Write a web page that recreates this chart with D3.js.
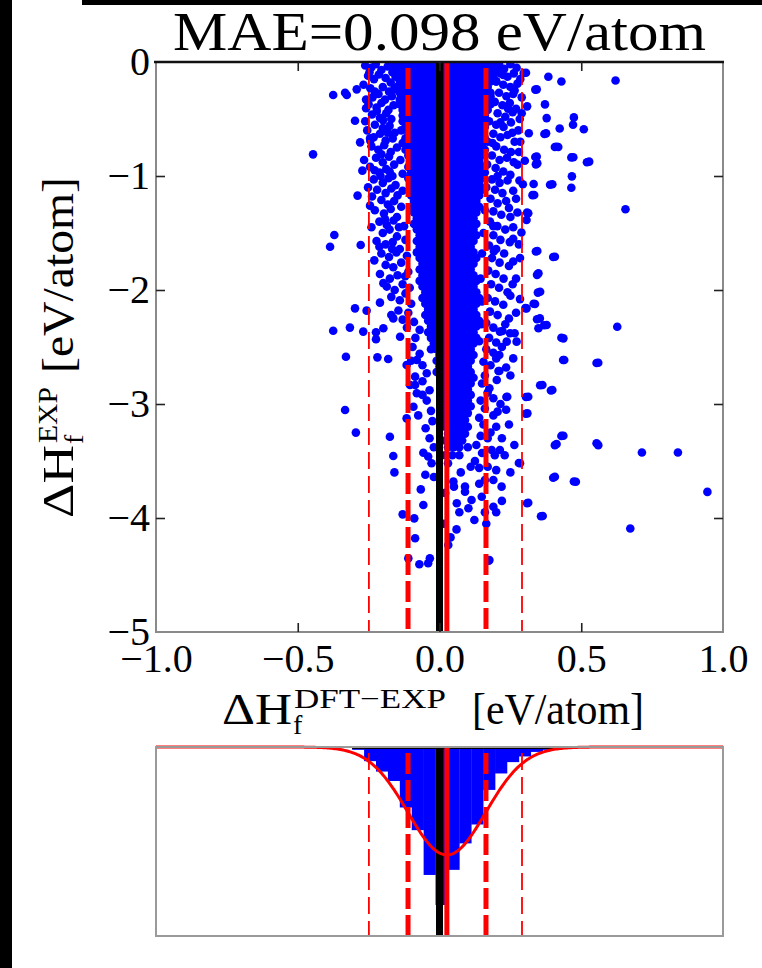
<!DOCTYPE html>
<html><head><meta charset="utf-8">
<script src="https://cdn.jsdelivr.net/npm/d3@7/dist/d3.min.js"></script>
<style>
html,body{margin:0;padding:0;background:#fff;}
svg{display:block;}
text{font-family:"Liberation Serif","Times New Roman",serif;fill:#000;}
</style></head><body>
<svg id="chart" width="762" height="968"></svg>
<script>
// ---------------- data ----------------
const titleText = "MAE=0.098 eV/atom";
const xTicks = [-1.0, -0.5, 0.0, 0.5, 1.0];
const xTickLabels = ["−1.0", "−0.5", "0.0", "0.5", "1.0"];
const yTicks = [0, -1, -2, -3, -4, -5];
const yTickLabels = ["0", "−1", "−2", "−3", "−4", "−5"];
const zeroLine = 0.0;
const meanError = 0.026;
const sigma = 0.137;
const sigma1Lines = [-0.111, 0.164];
const sigma2Lines = [-0.249, 0.291];
const fitPeak = 0.571;            // gaussian fit depth (fraction of panel)
const histEdges = [-0.308,-0.266,-0.224,-0.182,-0.140,-0.098,-0.056,-0.014,0.028,0.070,0.112,0.154,0.196,0.238,0.280,0.322,0.364,0.406,0.448];
const histValues = [0.015,0.075,0.13,0.18,0.32,0.44,0.677,0.836,0.65,0.51,0.41,0.227,0.14,0.08,0.05,0.026,0.015,0.01];

// solid core of the cloud: rows of [y, x values]
const coreRows = [
[-0.02,[-0.17,-0.15,-0.13,-0.11,-0.09,-0.07,-0.05,-0.03,-0.01,0.01,0.03,0.05,0.07,0.09,0.11,0.13,0.15,0.17,0.19,0.21]],
[-0.07,[-0.16,-0.14,-0.12,-0.1,-0.08,-0.06,-0.04,-0.02,0,0.02,0.04,0.06,0.08,0.1,0.12,0.14,0.16,0.18,0.2]],
[-0.12,[-0.15,-0.13,-0.11,-0.09,-0.07,-0.05,-0.03,-0.01,0.01,0.03,0.05,0.07,0.09,0.11,0.13,0.15,0.17,0.19]],
[-0.17,[-0.14,-0.12,-0.1,-0.08,-0.06,-0.04,-0.02,0,0.02,0.04,0.06,0.08,0.1,0.12,0.14,0.16,0.18,0.2]],
[-0.22,[-0.15,-0.13,-0.11,-0.09,-0.07,-0.05,-0.03,-0.01,0.01,0.03,0.05,0.07,0.09,0.11,0.13,0.15,0.17]],
[-0.27,[-0.14,-0.12,-0.1,-0.08,-0.06,-0.04,-0.02,0,0.02,0.04,0.06,0.08,0.1,0.12,0.14,0.16,0.18]],
[-0.32,[-0.13,-0.11,-0.09,-0.07,-0.05,-0.03,-0.01,0.01,0.03,0.05,0.07,0.09,0.11,0.13,0.15,0.17]],
[-0.37,[-0.14,-0.12,-0.1,-0.08,-0.06,-0.04,-0.02,0,0.02,0.04,0.06,0.08,0.1,0.12,0.14,0.16,0.18]],
[-0.42,[-0.13,-0.11,-0.09,-0.07,-0.05,-0.03,-0.01,0.01,0.03,0.05,0.07,0.09,0.11,0.13,0.15,0.17]],
[-0.47,[-0.12,-0.1,-0.08,-0.06,-0.04,-0.02,0,0.02,0.04,0.06,0.08,0.1,0.12,0.14,0.16]],
[-0.52,[-0.13,-0.11,-0.09,-0.07,-0.05,-0.03,-0.01,0.01,0.03,0.05,0.07,0.09,0.11,0.13,0.15,0.17]],
[-0.57,[-0.12,-0.1,-0.08,-0.06,-0.04,-0.02,0,0.02,0.04,0.06,0.08,0.1,0.12,0.14,0.16]],
[-0.62,[-0.11,-0.09,-0.07,-0.05,-0.03,-0.01,0.01,0.03,0.05,0.07,0.09,0.11,0.13,0.15]],
[-0.67,[-0.12,-0.1,-0.08,-0.06,-0.04,-0.02,0,0.02,0.04,0.06,0.08,0.1,0.12,0.14,0.16]],
[-0.72,[-0.11,-0.09,-0.07,-0.05,-0.03,-0.01,0.01,0.03,0.05,0.07,0.09,0.11,0.13,0.15]],
[-0.77,[-0.12,-0.1,-0.08,-0.06,-0.04,-0.02,0,0.02,0.04,0.06,0.08,0.1,0.12,0.14,0.16]],
[-0.82,[-0.11,-0.09,-0.07,-0.05,-0.03,-0.01,0.01,0.03,0.05,0.07,0.09,0.11,0.13,0.15]],
[-0.87,[-0.1,-0.08,-0.06,-0.04,-0.02,0,0.02,0.04,0.06,0.08,0.1,0.12,0.14]],
[-0.92,[-0.11,-0.09,-0.07,-0.05,-0.03,-0.01,0.01,0.03,0.05,0.07,0.09,0.11,0.13,0.15]],
[-0.97,[-0.1,-0.08,-0.06,-0.04,-0.02,0,0.02,0.04,0.06,0.08,0.1,0.12,0.14,0.16]],
[-1.02,[-0.11,-0.09,-0.07,-0.05,-0.03,-0.01,0.01,0.03,0.05,0.07,0.09,0.11,0.13,0.15]],
[-1.07,[-0.1,-0.08,-0.06,-0.04,-0.02,0,0.02,0.04,0.06,0.08,0.1,0.12,0.14]],
[-1.12,[-0.09,-0.07,-0.05,-0.03,-0.01,0.01,0.03,0.05,0.07,0.09,0.11,0.13,0.15]],
[-1.17,[-0.1,-0.08,-0.06,-0.04,-0.02,0,0.02,0.04,0.06,0.08,0.1,0.12,0.14]],
[-1.22,[-0.09,-0.07,-0.05,-0.03,-0.01,0.01,0.03,0.05,0.07,0.09,0.11,0.13]],
[-1.27,[-0.1,-0.08,-0.06,-0.04,-0.02,0,0.02,0.04,0.06,0.08,0.1,0.12,0.14]],
[-1.32,[-0.09,-0.07,-0.05,-0.03,-0.01,0.01,0.03,0.05,0.07,0.09,0.11,0.13]],
[-1.37,[-0.08,-0.06,-0.04,-0.02,0,0.02,0.04,0.06,0.08,0.1,0.12]],
[-1.42,[-0.09,-0.07,-0.05,-0.03,-0.01,0.01,0.03,0.05,0.07,0.09,0.11,0.13]],
[-1.47,[-0.08,-0.06,-0.04,-0.02,0,0.02,0.04,0.06,0.08,0.1,0.12]],
[-1.52,[-0.07,-0.05,-0.03,-0.01,0.01,0.03,0.05,0.07,0.09,0.11,0.13]],
[-1.57,[-0.08,-0.06,-0.04,-0.02,0,0.02,0.04,0.06,0.08,0.1,0.12]],
[-1.62,[-0.07,-0.05,-0.03,-0.01,0.01,0.03,0.05,0.07,0.09,0.11]],
[-1.67,[-0.08,-0.06,-0.04,-0.02,0,0.02,0.04,0.06,0.08,0.1,0.12]],
[-1.72,[-0.07,-0.05,-0.03,-0.01,0.01,0.03,0.05,0.07,0.09,0.11,0.13]],
[-1.77,[-0.06,-0.04,-0.02,0,0.02,0.04,0.06,0.08,0.1,0.12]],
[-1.82,[-0.07,-0.05,-0.03,-0.01,0.01,0.03,0.05,0.07,0.09,0.11]],
[-1.87,[-0.06,-0.04,-0.02,0,0.02,0.04,0.06,0.08,0.1,0.12]],
[-1.92,[-0.07,-0.05,-0.03,-0.01,0.01,0.03,0.05,0.07,0.09,0.11,0.13]],
[-1.97,[-0.06,-0.04,-0.02,0,0.02,0.04,0.06,0.08,0.1,0.12]],
[-2.02,[-0.05,-0.03,-0.01,0.01,0.03,0.05,0.07,0.09,0.11,0.13]],
[-2.07,[-0.06,-0.04,-0.02,0,0.02,0.04,0.06,0.08,0.1,0.12,0.14]],
[-2.12,[-0.05,-0.03,-0.01,0.01,0.03,0.05,0.07,0.09,0.11,0.13]],
[-2.17,[-0.04,-0.02,0,0.02,0.04,0.06,0.08,0.1,0.12]],
[-2.22,[-0.05,-0.03,-0.01,0.01,0.03,0.05,0.07,0.09,0.11,0.13]],
[-2.27,[-0.04,-0.02,0,0.02,0.04,0.06,0.08,0.1,0.12,0.14]],
[-2.32,[-0.03,-0.01,0.01,0.03,0.05,0.07,0.09,0.11,0.13]],
[-2.37,[-0.04,-0.02,0,0.02,0.04,0.06,0.08,0.1,0.12]],
[-2.42,[-0.03,-0.01,0.01,0.03,0.05,0.07,0.09,0.11,0.13]],
[-2.47,[-0.02,0,0.02,0.04,0.06,0.08,0.1,0.12]],
[-2.52,[-0.03,-0.01,0.01,0.03,0.05,0.07,0.09,0.11]],
[-2.57,[0,0.02,0.04,0.06,0.08,0.1,0.12]],
[-2.62,[-0.01,0.01,0.03,0.05,0.07,0.09,0.11]],
[-2.67,[0,0.02,0.04,0.06,0.08,0.1]],
[-2.72,[-0.01,0.01,0.03,0.05,0.07,0.09,0.11]],
[-2.77,[0.02,0.04,0.06,0.08,0.1,0.12]],
[-2.82,[0.01,0.03,0.05,0.07,0.09,0.11]],
[-2.87,[0.02,0.04,0.06,0.08,0.1]],
[-2.92,[0.01,0.03,0.05,0.07,0.09,0.11]],
[-2.97,[0.02,0.04,0.06,0.08,0.1]],
[-3.02,[0.01,0.03,0.05,0.07,0.09,0.11]],
[-3.08,[0.02,0.04,0.06,0.08,0.1]],
[-3.14,[0.01,0.03,0.05,0.07,0.09]],
[-3.2,[0.02,0.04,0.06,0.08,0.1]],
[-3.26,[0.03,0.05,0.07,0.09]],
[-3.32,[0.02,0.04,0.06,0.08]],
[-3.38,[0.03,0.05,0.07,0.1]],
[-3.45,[0.02,0.045,0.07]]
];

// flanks of the cloud [x, y]
const flankLeft = [
[-0.262,-0.03],[-0.241,-0.05],[-0.225,-0.02],[-0.205,-0.07],[-0.183,-0.04],[-0.166,-0.09],[-0.252,-0.12],[-0.231,-0.15],[-0.214,-0.11],[-0.19,-0.14],[-0.172,-0.18],[-0.155,-0.13],[-0.268,-0.2],[-0.244,-0.23],[-0.2,-0.22],[-0.178,-0.26],[-0.16,-0.24],[-0.236,-0.31],[-0.215,-0.28],[-0.192,-0.33],[-0.168,-0.3],[-0.25,-0.37],[-0.222,-0.4],[-0.205,-0.36],[-0.18,-0.42],[-0.162,-0.38],[-0.238,-0.46],[-0.21,-0.49],[-0.188,-0.45],[-0.17,-0.5],[-0.228,-0.55],[-0.2,-0.58],[-0.176,-0.56],[-0.158,-0.62],[-0.255,-0.6],[-0.232,-0.66],[-0.21,-0.63],[-0.19,-0.69],[-0.165,-0.67],[-0.24,-0.74],[-0.216,-0.77],[-0.195,-0.73],[-0.172,-0.79],[-0.15,-0.75],[-0.224,-0.84],[-0.2,-0.88],[-0.178,-0.83],[-0.16,-0.9],[-0.245,-0.92],[-0.212,-0.97],[-0.188,-0.94],[-0.166,-1.0],[-0.232,-1.03],[-0.2,-1.06],[-0.18,-1.02],[-0.155,-1.08],[-0.22,-1.12],[-0.19,-1.15],[-0.17,-1.11],[-0.148,-1.17],[-0.205,-1.21],[-0.182,-1.25],[-0.16,-1.22],[-0.228,-1.3],[-0.196,-1.33],[-0.172,-1.29],[-0.15,-1.36],[-0.212,-1.4],[-0.186,-1.43],[-0.162,-1.39],[-0.2,-1.5],[-0.176,-1.47],[-0.15,-1.53],[-0.222,-1.57],[-0.19,-1.6],[-0.165,-1.58],[-0.14,-1.64],[-0.205,-1.68],[-0.178,-1.71],[-0.152,-1.67],[-0.19,-1.78],[-0.163,-1.8],[-0.135,-1.76],[-0.21,-1.86],[-0.175,-1.9],[-0.148,-1.87],[-0.186,-1.97],[-0.158,-2.0],[-0.13,-1.95],[-0.17,-2.06],[-0.14,-2.09],[-0.12,-2.03],
[-0.135,-0.05],[-0.128,-0.2],[-0.14,-0.33],[-0.13,-0.47],[-0.135,-0.6],[-0.13,-0.71],[-0.138,-0.86],[-0.13,-0.98],[-0.13,-1.13],[-0.135,-1.27],[-0.125,-1.44],[-0.12,-1.56],[-0.115,-1.7],[-0.11,-1.84],[-0.105,-1.98],[-0.1,-2.12],[-0.11,-2.2],[-0.09,-2.28],[-0.115,-2.33],[-0.085,-2.42],[-0.095,-2.5],[-0.07,-2.56],[-0.06,-2.66],[-0.045,-2.73],[-0.06,-2.8],[-0.035,-2.88],[-0.045,-2.97],[-0.03,-3.06],[-0.025,-3.15],[-0.035,-3.3],[-0.02,-3.38],[-0.028,-3.52],[-0.02,-3.64],
[-0.247,-0.09],[-0.228,-0.26],[-0.259,-0.33],[-0.199,-0.51],[-0.221,-0.43],[-0.262,-0.52],[-0.183,-0.62],[-0.244,-0.69],[-0.205,-0.81],[-0.229,-0.95],[-0.252,-1.1],[-0.176,-0.96],[-0.208,-1.0],[-0.238,-1.18],[-0.192,-1.38],[-0.24,-1.45],[-0.212,-1.62],[-0.23,-1.74],[-0.167,-1.64],[-0.198,-1.94],[-0.143,-1.45],[-0.121,-1.88],[-0.145,-2.18],[-0.13,-2.26],[-0.17,-2.22],[-0.06,-2.92],[-0.075,-3.1],[-0.04,-3.46],[-0.05,-3.62],[-0.1,-2.62],[-0.07,-2.35]
];
const flankRight = [
[0.205,-0.03],[0.228,-0.06],[0.25,-0.02],[0.272,-0.05],[0.215,-0.1],[0.24,-0.13],[0.262,-0.1],[0.285,-0.15],[0.2,-0.17],[0.225,-0.2],[0.25,-0.22],[0.275,-0.19],[0.21,-0.27],[0.236,-0.3],[0.26,-0.28],[0.29,-0.31],[0.195,-0.35],[0.222,-0.38],[0.248,-0.36],[0.27,-0.41],[0.205,-0.45],[0.232,-0.48],[0.258,-0.44],[0.2,-0.55],[0.226,-0.57],[0.252,-0.53],[0.278,-0.6],[0.19,-0.63],[0.215,-0.66],[0.24,-0.64],[0.265,-0.7],[0.2,-0.74],[0.228,-0.77],[0.252,-0.79],[0.185,-0.82],[0.212,-0.86],[0.238,-0.84],[0.275,-0.9],[0.198,-0.93],[0.225,-0.96],[0.25,-0.99],[0.185,-1.03],[0.212,-1.06],[0.24,-1.04],[0.196,-1.12],[0.222,-1.15],[0.26,-1.13],[0.18,-1.2],[0.205,-1.24],[0.235,-1.22],[0.19,-1.31],[0.218,-1.34],[0.25,-1.36],[0.178,-1.4],[0.204,-1.44],[0.232,-1.47],[0.19,-1.52],[0.215,-1.56],[0.26,-1.55],[0.175,-1.61],[0.2,-1.64],[0.228,-1.68],[0.185,-1.72],[0.212,-1.76],[0.245,-1.79],[0.172,-1.83],[0.198,-1.86],[0.226,-1.9],[0.182,-1.95],[0.21,-1.98],[0.24,-2.02],[0.17,-2.07],[0.196,-2.1],[0.225,-2.13],[0.178,-2.19],[0.205,-2.22],[0.245,-2.25],[0.165,-2.29],[0.19,-2.33],[0.222,-2.36],[0.175,-2.42],[0.2,-2.46],[0.165,-2.52],[0.19,-2.55],[0.155,-2.63],[0.18,-2.66],[0.16,-2.75],[0.15,-2.82],[0.17,-2.9],[0.145,-2.97],[0.16,-3.04],[0.14,-3.12],[0.155,-3.18],[0.145,-3.28],[0.13,-3.36],[0.15,-3.43],[0.125,-3.5],[0.14,-3.56],
[0.17,-0.08],[0.18,-0.3],[0.175,-0.52],[0.17,-0.7],[0.168,-0.9],[0.165,-1.1],[0.16,-1.3],[0.155,-1.5],[0.15,-1.68],[0.145,-1.9],[0.15,-2.1],[0.148,-2.3],[0.14,-2.45],
[0.183,-0.12],[0.265,-0.25],[0.242,-0.41],[0.283,-0.5],[0.215,-0.53],[0.257,-0.62],[0.187,-0.71],[0.28,-0.79],[0.262,-0.88],[0.205,-1.0],[0.282,-1.04],[0.245,-1.28],[0.275,-1.32],[0.19,-1.44],[0.248,-1.58],[0.284,-1.72],[0.192,-1.66],[0.258,-1.95],[0.284,-2.08],[0.232,-2.3],[0.265,-2.38],[0.2,-2.6],[0.235,-2.68],[0.19,-2.95],[0.215,-3.0],[0.17,-3.3],[0.195,-3.45],[0.22,-3.85],[0.14,-3.7],[0.16,-3.95]
];
// scattered outliers [x, y]
const outliers = [
[-0.375,-0.29],[-0.333,-0.27],[-0.327,-0.29],[-0.292,-0.24],[-0.298,-0.515],[-0.446,-0.81],[-0.28,-0.705],[-0.266,-0.86],[-0.272,-0.953],[-0.289,-1.172],[-0.245,-1.26],[-0.371,-1.518],[-0.386,-1.62],[-0.278,-1.605],[-0.245,-0.67],[-0.259,-0.406],
[-0.375,-2.357],[-0.316,-2.33],[-0.269,-2.365],[-0.224,-2.371],[-0.224,-2.432],[-0.198,-2.336],[-0.298,-2.161],[-0.257,-2.181],[-0.21,-2.111],[-0.33,-2.585],[-0.219,-2.591],[-0.181,-2.605],[-0.163,-2.249],[-0.139,-2.41],[-0.333,-3.053],[-0.295,-3.251],[-0.175,-3.287],[-0.163,-3.456],[-0.159,-3.6],[-0.057,-3.427],[-0.049,-3.213],[-0.116,-3.126],[-0.092,-3.024],[-0.08,-2.906],[-0.086,-2.833],[-0.104,-2.833],[-0.086,-2.76],[-0.116,-2.658],[-0.08,-2.614],[-0.066,-3.749],[-0.057,-3.886],[-0.13,-3.968],[-0.089,-4.003],[-0.086,-4.178],[-0.11,-4.354],[-0.071,-4.406],[-0.04,-4.397],[-0.034,-4.354],
[0.297,-0.096],[0.384,-0.129],[0.43,-0.171],[0.621,-0.162],[0.338,-0.242],[0.309,-0.389],[0.372,-0.372],[0.378,-0.492],[0.474,-0.486],[0.471,-0.551],[0.424,-0.583],[0.509,-0.59],[0.315,-0.625],[0.37,-0.632],[0.407,-0.746],[0.419,-0.746],[0.465,-0.837],[0.52,-0.879],[0.338,-0.833],[0.34,-0.898],[0.301,-0.866],[0.467,-1.003],[0.465,-1.103],[0.39,-1.077],[0.332,-1.07],[0.294,-1.073],[0.328,-1.168],[0.656,-1.292],[0.309,-1.321],[0.289,-1.496],[0.34,-1.662],[0.401,-1.711],[0.344,-1.867],[0.347,-2.023],[0.332,-2.12],[0.303,-2.159],[0.344,-2.257],[0.369,-2.309],[0.627,-2.322],[0.43,-2.419],[0.436,-2.614],[0.554,-2.64],[0.355,-2.835],[0.393,-2.881],[0.305,-2.939],[0.304,-3.085],[0.43,-3.28],[0.407,-3.361],[0.56,-3.361],[0.714,-3.426],[0.841,-3.426],[0.401,-3.647],[0.474,-3.68],[0.945,-3.771],[0.309,-3.871],[0.358,-3.985],[0.673,-4.092],[0.28,-3.518],[0.174,-4.375],[0.236,-2.939],[0.208,-2.711],
[0.225,-0.114],[0.305,-0.094],[0.343,-0.24],[0.376,-0.626],[0.413,-0.743],[0.472,-0.836],[0.528,-0.874],[0.398,-1.073],[0.343,-0.83],[0.345,-0.889],[0.334,-1.167],[0.313,-1.327],[0.307,-1.386],[0.345,-1.658],[0.407,-1.708],[0.349,-1.854],[0.355,-2.015],
[0.039,-4.17],[0.031,-4.237],[0.176,-4.368],[0.049,-3.68],[0.051,-3.725],[0.09,-3.725],[0.09,-3.769],[0.113,-3.842],[0.149,-3.813],[0.19,-3.901],[0.16,-3.667],[0.19,-3.667],[0.219,-3.725],[0.123,-4.018],[0.102,-3.915],[0.061,-3.871],[0.313,-3.866],[0.364,-3.982],[0.407,-3.638],[0.481,-3.682],[0.284,-3.52],[0.264,-3.36],[0.413,-3.351],[0.437,-3.278],[0.554,-3.345],[0.56,-2.638],[0.44,-2.614],[0.437,-2.424],[0.31,-3.082],[0.313,-2.936],[0.239,-2.936],[0.205,-3.067],[0.398,-2.877],[0.363,-2.833],[0.211,-2.711],[0.307,-2.161],[0.337,-2.123],[0.349,-2.336],[0.354,-2.249],[0.378,-2.307],[0.249,-2.38],[0.272,-2.453],[0.213,-2.365],[0.237,-2.453],[0.211,-2.57],[0.202,-2.789],[0.176,-2.862],[0.184,-3.404],[0.213,-3.404],
[0.2,-3.2],[0.245,-3.18],[0.22,-3.3],[0.19,-3.1],[0.235,-3.05],[0.18,-3.25],[0.23,-3.45],[0.17,-3.55],[0.2,-3.58],[0.25,-3.6],[0.2,-3.95],[0.165,-4.05],[0.26,-2.6],[0.25,-2.75],[0.22,-2.5],[0.27,-2.2],[0.25,-2.05],[0.27,-1.9],[0.26,-1.75],[0.28,-1.6],[0.26,-1.45],[0.27,-1.2],[0.285,-0.7],[0.29,-0.45],
[0.03,-3.52],[0.075,-3.6],[0.11,-3.55],[0.02,-3.78],[0.07,-3.95],[0.015,-4.05],[0.06,-4.1]
];

// ---------------- drawing ----------------
const svg = d3.select("#chart");
const W = 762, H = 968;
const M = {left:156, right:723, top:62, bottom:632};
const HB = {top:747, bottom:936};

const x = d3.scaleLinear().domain([-1, 1]).range([M.left, M.right]);
const y = d3.scaleLinear().domain([-5, 0]).range([M.bottom, M.top]);
const hy = d3.scaleLinear().domain([0, 1]).range([HB.top, HB.bottom]);

svg.append("rect").attr("x",0).attr("y",0).attr("width",W).attr("height",H).attr("fill","#fff");
svg.append("rect").attr("x",0).attr("y",0).attr("width",12).attr("height",H).attr("fill","#000");
svg.append("rect").attr("x",82).attr("y",0).attr("width",W-82).attr("height",5).attr("fill","#000");

const defs = svg.append("defs");
defs.append("clipPath").attr("id","clipMain").append("rect")
  .attr("x",M.left).attr("y",M.top).attr("width",M.right-M.left).attr("height",M.bottom-M.top);
defs.append("clipPath").attr("id","clipHist").append("rect")
  .attr("x",M.left).attr("y",HB.top).attr("width",M.right-M.left).attr("height",HB.bottom-HB.top);

const points = [];
coreRows.forEach(([yy, xs]) => xs.forEach(xx => points.push([xx, yy])));
flankLeft.forEach(p => points.push(p));
flankRight.forEach(p => points.push(p));
outliers.forEach(p => points.push(p));

const gMain = svg.append("g").attr("clip-path","url(#clipMain)");
gMain.selectAll("circle").data(points).join("circle")
  .attr("cx", d => x(d[0])).attr("cy", d => y(d[1])).attr("r", 4.3)
  .attr("fill", "#0000ff");

function refLines(g, y0, y1) {
  g.append("line").attr("x1",x(zeroLine)).attr("x2",x(zeroLine)).attr("y1",y0).attr("y2",y1)
    .attr("stroke","#000").attr("stroke-width",7);
  g.append("line").attr("x1",x(meanError)).attr("x2",x(meanError)).attr("y1",y0).attr("y2",y1)
    .attr("stroke","#ff0000").attr("stroke-width",5);
  g.selectAll("line.s1").data(sigma1Lines).join("line").attr("class","s1")
    .attr("x1",d=>x(d)).attr("x2",d=>x(d)).attr("y1",y0+6).attr("y2",y1)
    .attr("stroke","#ff0000").attr("stroke-width",5).attr("stroke-dasharray","21,6");
  g.selectAll("line.s2").data(sigma2Lines).join("line").attr("class","s2")
    .attr("x1",d=>x(d)).attr("x2",d=>x(d)).attr("y1",y0+6).attr("y2",y1)
    .attr("stroke","#ff0000").attr("stroke-width",1.8).attr("stroke-dasharray","17,7");
}
refLines(gMain, M.top, M.bottom);

svg.append("rect").attr("x",M.left).attr("y",M.top).attr("width",M.right-M.left).attr("height",M.bottom-M.top)
  .attr("fill","none").attr("stroke","#8a8a8a").attr("stroke-width",2);
svg.append("line").attr("x1",M.left-2).attr("x2",M.right+1).attr("y1",M.top).attr("y2",M.top)
  .attr("stroke","#111").attr("stroke-width",2.5);

function styleAxis(g) {
  g.select(".domain").remove();
  g.selectAll(".tick line").attr("stroke","#222").attr("stroke-width",1.6);
  g.selectAll(".tick text").style("font-size","40px").attr("fill","#000");
}
const ax = svg.append("g").attr("transform",`translate(0,${M.bottom})`)
  .call(d3.axisBottom(x).tickValues(xTicks).tickSizeInner(-9).tickSizeOuter(0).tickPadding(12)
    .tickFormat((d,i)=>xTickLabels[i]));
styleAxis(ax);
ax.selectAll(".tick line").filter(d => d===-1 || d===1).remove();
const axT = svg.append("g").attr("transform",`translate(0,${M.top})`)
  .call(d3.axisTop(x).tickValues(xTicks.slice(1,-1)).tickSizeInner(-9).tickSizeOuter(0).tickFormat(""));
styleAxis(axT);
const ayL = svg.append("g").attr("transform",`translate(${M.left},0)`)
  .call(d3.axisLeft(y).tickValues(yTicks).tickSizeInner(-9).tickSizeOuter(0).tickPadding(6)
    .tickFormat((d,i)=>yTickLabels[i]));
styleAxis(ayL);
ayL.selectAll(".tick line").filter(d => d===0 || d===-5).remove();
const ayR = svg.append("g").attr("transform",`translate(${M.right},0)`)
  .call(d3.axisRight(y).tickValues(yTicks.slice(1,-1)).tickSizeInner(-9).tickSizeOuter(0).tickFormat(""));
styleAxis(ayR);

svg.append("text").attr("x",(M.left+M.right)/2).attr("y",50).attr("text-anchor","middle")
  .style("font-size","55px").attr("textLength",533).attr("lengthAdjust","spacingAndGlyphs").text(titleText);

function mathLabel(g, size, sub, sup, tail, wMain, wSup, gap, wTail) {
  let cx = 0;
  g.append("text").attr("x",cx).attr("y",0).style("font-size",size+"px")
    .attr("textLength",wMain).attr("lengthAdjust","spacingAndGlyphs").text("ΔH");
  cx += wMain;
  const small = size*0.64;
  g.append("text").attr("x",cx+1).attr("y",size*0.22).style("font-size",small+"px").text(sub);
  g.append("text").attr("x",cx+2).attr("y",-size*0.37).style("font-size",small+"px")
    .attr("textLength",wSup).attr("lengthAdjust","spacingAndGlyphs").text(sup);
  cx += wSup + 2 + gap;
  g.append("text").attr("x",cx).attr("y",0).style("font-size",size+"px")
    .attr("textLength",wTail).attr("lengthAdjust","spacingAndGlyphs").text(tail);
}
const xl = svg.append("g").attr("transform","translate(222,724)");
mathLabel(xl, 44, "f", "DFT−EXP", "[eV/atom]", 70, 152, 26, 172);
const yl = svg.append("g").attr("transform","translate(73,518) rotate(-90)");
mathLabel(yl, 44, "f", "EXP", "[eV/atom]", 73, 56, 14, 196);

// ---------------- histogram panel ----------------
const gH = svg.append("g").attr("clip-path","url(#clipHist)");
const bins = histValues.map((v,i)=>({x0:histEdges[i], x1:histEdges[i+1], v}));
gH.selectAll("rect.bar").data(bins).join("rect").attr("class","bar")
  .attr("x",d=>x(d.x0)).attr("width",d=>x(d.x1)-x(d.x0)+0.3)
  .attr("y",hy(0)).attr("height",d=>hy(d.v)-hy(0)).attr("fill","#0000ff");
gH.append("line").attr("x1",x(histEdges[0])).attr("x2",x(histEdges[histEdges.length-1]))
  .attr("y1",hy(0)+1).attr("y2",hy(0)+1).attr("stroke","#000").attr("stroke-width",2);
refLines(gH, HB.top, HB.bottom);
const gx = d3.range(-1, 1.0001, 0.005);
const fitLine = d3.line().x(d=>x(d)).y(d=>hy(fitPeak*Math.exp(-0.5*Math.pow((d-meanError)/sigma,2))));
svg.append("path").datum(gx).attr("d",fitLine).attr("fill","none")
  .attr("stroke","#ff0000").attr("stroke-width",3);
svg.append("rect").attr("x",M.left).attr("y",HB.top).attr("width",M.right-M.left).attr("height",HB.bottom-HB.top)
  .attr("fill","none").attr("stroke","#9a9a9a").attr("stroke-width",2);
</script>
</body></html>
